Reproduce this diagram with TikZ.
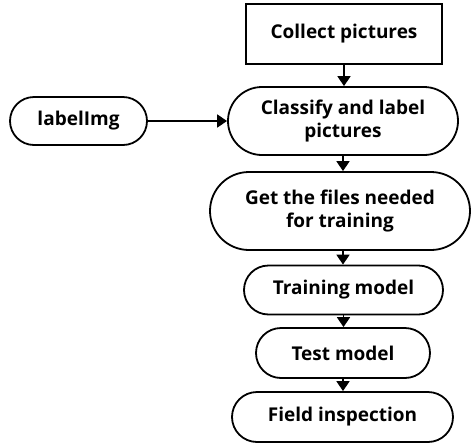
\documentclass[tikz,border=0pt]{standalone}
\usepackage{fontspec}
\setmainfont{Open Sans}
\usetikzlibrary{arrows.meta}
\tikzset{
  box/.style={draw, line width=1.8pt, inner sep=0pt, font=\bfseries\fontsize{19}{23}\selectfont, align=center},
  pill/.style={box},
  conn/.style={line width=1.8pt, -{Triangle[length=10pt,width=13pt]}}
}
\begin{document}
\begin{tikzpicture}[x=1pt,y=-1pt]
\useasboundingbox (0,0) rectangle (472,445);
\node[box, minimum width=196pt, minimum height=60pt] (collect) at (344,34) {Collect pictures};
\node[pill, minimum width=230pt, minimum height=68pt, rounded corners=34pt] (classify) at (343,121) {Classify and label\\pictures};
\node[pill, minimum width=137pt, minimum height=48pt, rounded corners=24pt] (label) at (78.5,121) {labelImg};
\node[pill, minimum width=260pt, minimum height=78pt, rounded corners=39pt] (files) at (340,211) {Get the files needed\\for training};
\node[pill, minimum width=199pt, minimum height=49pt, rounded corners=24.5pt] (train) at (343.5,290) {Training model};
\node[pill, minimum width=174pt, minimum height=50pt, rounded corners=25pt] (test) at (343,353) {Test model};
\node[pill, minimum width=221pt, minimum height=50pt, rounded corners=25pt] (field) at (342.5,417) {Field inspection};
\draw[conn] (collect.south) -- (collect.south |- classify.north);
\draw[conn] (label.east) -- (classify.west);
\draw[conn] (classify.south) -- (classify.south |- files.north);
\draw[conn] (files.south -| classify.south) -- (classify.south |- train.north);
\draw[conn] (train.south) -- (train.south |- test.north);
\draw[conn] (test.south) -- (test.south |- field.north);
\end{tikzpicture}
\end{document}
